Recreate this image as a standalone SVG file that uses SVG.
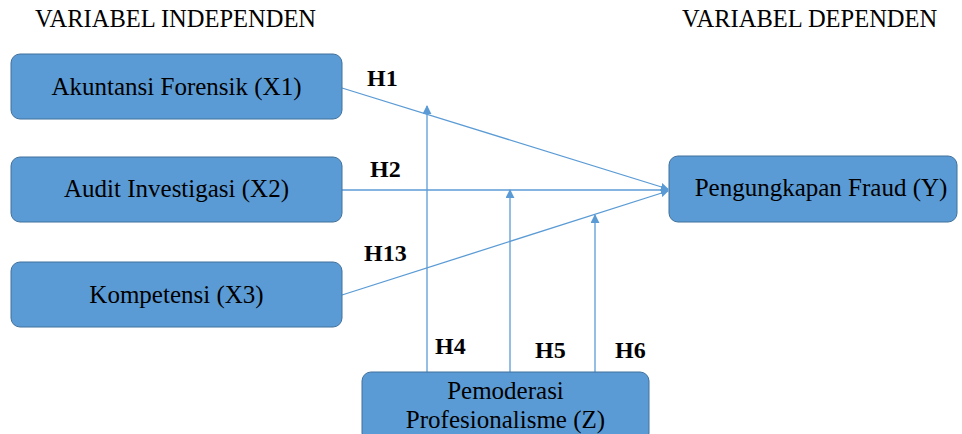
<svg xmlns="http://www.w3.org/2000/svg" width="962" height="434" viewBox="0 0 962 434">
<style>
.box{fill:#5b9bd5;stroke:#41719c;stroke-width:1}
.bt{font-family:"Liberation Serif","Times New Roman",serif;font-size:25px;fill:#000;text-anchor:middle}
.hd{font-family:"Liberation Serif","Times New Roman",serif;font-size:24.5px;fill:#000}
.h{font-family:"Liberation Serif","Times New Roman",serif;font-size:24px;font-weight:bold;fill:#000}
.ln{stroke:#5b9bd5;stroke-width:1.3;fill:none}
</style>
<defs>
<marker id="ah" viewBox="0 0 10 10" refX="9" refY="5" markerWidth="8" markerHeight="8" markerUnits="userSpaceOnUse" orient="auto">
<path d="M0,0 L10,5 L0,10 z" fill="#5b9bd5"/>
</marker>
<marker id="av" viewBox="0 0 10 10" refX="9" refY="5" markerWidth="9" markerHeight="9" markerUnits="userSpaceOnUse" orient="auto">
<path d="M0,0 L10,5 L0,10 z" fill="#5b9bd5"/>
</marker>
</defs>
<rect width="962" height="434" fill="#fff"/>
<text class="hd" x="35" y="27">VARIABEL INDEPENDEN</text>
<text class="hd" x="682" y="27">VARIABEL DEPENDEN</text>
<g id="connectors">
<line class="ln" x1="342" y1="88" x2="668" y2="189" marker-end="url(#ah)"/>
<line class="ln" x1="342" y1="190" x2="668" y2="190" marker-end="url(#ah)"/>
<line class="ln" x1="342" y1="295" x2="668" y2="191" marker-end="url(#ah)"/>
<line class="ln" x1="427" y1="372" x2="427" y2="106" marker-end="url(#av)"/>
<line class="ln" x1="510" y1="372" x2="510" y2="190" marker-end="url(#av)"/>
<line class="ln" x1="595" y1="372" x2="595" y2="215" marker-end="url(#av)"/>
</g>
<g id="labels">
<text class="h" x="367" y="86">H1</text>
<text class="h" x="370" y="177">H2</text>
<text class="h" x="364" y="261">H13</text>
<text class="h" x="435" y="354">H4</text>
<text class="h" x="535" y="358">H5</text>
<text class="h" x="615" y="358">H6</text>
</g>
<g id="x1">
<rect class="box" x="11" y="54" width="331" height="65" rx="9"/>
<text class="bt" x="176.5" y="95">Akuntansi Forensik (X1)</text>
</g>
<g id="x2">
<rect class="box" x="11" y="157" width="331" height="65" rx="9"/>
<text class="bt" x="176.5" y="197">Audit Investigasi (X2)</text>
</g>
<g id="x3">
<rect class="box" x="11" y="262" width="331" height="65" rx="9"/>
<text class="bt" x="176.5" y="303">Kompetensi (X3)</text>
</g>
<g id="y">
<rect class="box" x="669" y="156" width="288" height="66" rx="9"/>
<text class="bt" x="821" y="196">Pengungkapan Fraud (Y)</text>
</g>
<g id="z">
<rect class="box" x="362" y="372" width="287" height="70" rx="9"/>
<text class="bt" x="505.5" y="399">Pemoderasi</text>
<text class="bt" x="505.5" y="428">Profesionalisme (Z)</text>
</g>
</svg>
